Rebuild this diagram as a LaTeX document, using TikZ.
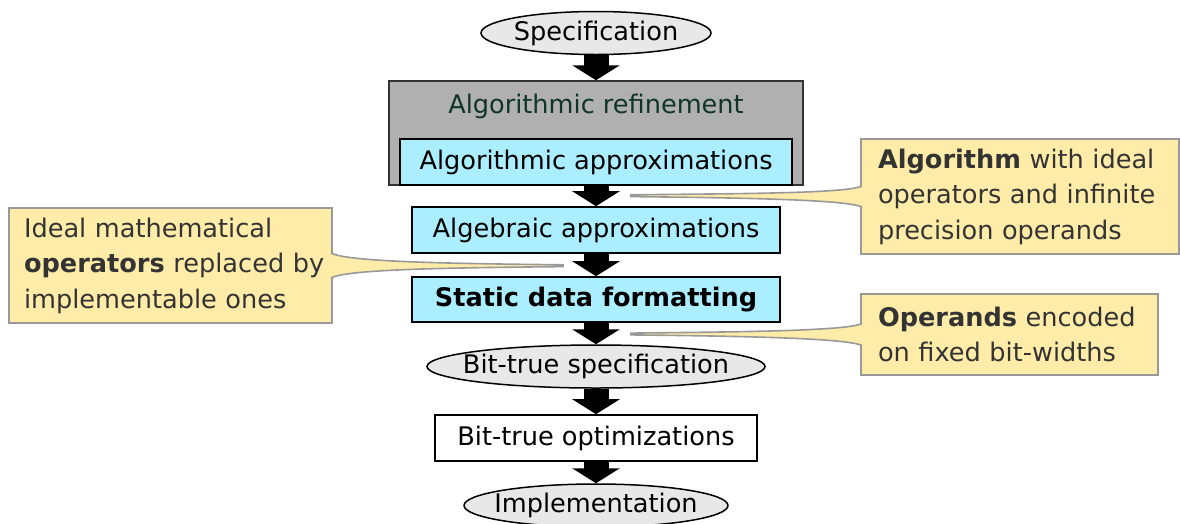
\documentclass[tikz,border=0pt]{standalone}
\usepackage{fontspec}
\setmainfont{DejaVu Sans}
\usetikzlibrary{shapes.geometric,arrows.meta}
\definecolor{specgray}{RGB}{232,232,232}
\definecolor{boxcyan}{RGB}{170,238,255}
\definecolor{refgray}{RGB}{176,176,176}
\definecolor{refgreen}{RGB}{16,52,40}
\definecolor{notefill}{RGB}{255,236,168}
\definecolor{noteline}{RGB}{153,153,153}
\definecolor{notetext}{RGB}{51,51,51}

\begin{document}
\begin{tikzpicture}[x=1pt,y=-1pt,
		font=\fontsize{25.6}{35.5}\selectfont,
		ends/.style={ellipse,draw,line width=1.5pt,fill=specgray,inner sep=0pt,minimum height=43pt},
		stage/.style={rectangle,draw,line width=1.6pt,fill=boxcyan,inner sep=0pt,minimum height=46pt},
		flow/.style={line width=25pt,-{Triangle[width=47pt,length=15pt]}},
		note/.style={rectangle,draw=noteline,line width=2pt,fill=notefill,text=notetext,align=left,inner sep=0pt},
		pointer/.style={draw=noteline,line width=1.6pt,fill=notefill}]
				\useasboundingbox (0,0) rectangle (1180,523);
				\draw (596,33) node[ends,minimum width=230pt] (spec) {\makebox[0pt]{Specification}};
				\draw (596,133) node[draw=black!80,line width=1.5pt,fill=refgray,minimum width=414pt,minimum height=104pt] (refine) {};
				\draw (596,106) node[text=refgreen] (refinelbl) {Algorithmic refinement};
				\draw (596,162) node[stage,minimum width=392pt] (algo) {Algorithmic approximations};
				\draw (596,230) node[stage,minimum width=368pt] (alge) {Algebraic approximations};
				\draw (596,299.5) node[stage,minimum width=368pt,minimum height=45pt] (stat) {\textbf{Static data formatting}};
				\draw (596,366.5) node[ends,minimum width=338pt] (bitspec) {\makebox[0pt]{Bit-true specification}};
				\draw (596,438) node[stage,fill=white,minimum width=322pt] (bitopt) {Bit-true optimizations};
				\draw (596,505.5) node[ends,minimum width=264pt] (impl) {\makebox[0pt]{Implementation}};
				\draw[flow] (spec) -- (refine);
				\draw[flow] (algo) -- (alge);
				\draw[flow] (alge) -- (stat);
				\draw[flow] (stat) -- (bitspec);
				\draw[flow] (bitspec) -- (bitopt);
				\draw[flow] (bitopt) -- (impl);
				% callouts
				\draw (1020,196.5) node[note,minimum width=318pt,minimum height=115pt,text width=284pt] (note1) {\textbf{Algorithm} with ideal\\\mbox{operators and infinite}\\precision operands};
				\draw (170.5,265.5) node[note,minimum width=323pt,minimum height=115pt,text width=293pt] (note2) {Ideal mathematical\\\mbox{\textbf{operators} replaced by}\\implementable ones};
				\draw (1009.5,334.5) node[note,minimum width=297pt,minimum height=81pt,text width=263pt] (note3) {\mbox{\textbf{Operands} encoded}\\on fixed bit-widths};
				\coordinate (tip1) at (631,195.7);
				\coordinate (tip2) at (563,265.7);
				\coordinate (tip3) at (631,334);
				\filldraw[pointer] ([shift={(2pt,10.5pt)}]note1.west) .. controls +(-16pt,-7.5pt) and +(110pt,1.2pt) .. ([yshift=0.9pt]tip1) -- ([yshift=-0.9pt]tip1) .. controls +(110pt,-1.2pt) and +(-16pt,7.5pt) .. ([shift={(2pt,-10.5pt)}]note1.west);
				\filldraw[pointer] ([shift={(-2pt,12.5pt)}]note2.east) .. controls +(16pt,-9pt) and +(-110pt,1.2pt) .. ([yshift=0.9pt]tip2) -- ([yshift=-0.9pt]tip2) .. controls +(-110pt,-1.2pt) and +(16pt,9pt) .. ([shift={(-2pt,-12.5pt)}]note2.east);
				\filldraw[pointer] ([shift={(2pt,11pt)}]note3.west) .. controls +(-16pt,-7.5pt) and +(110pt,1.2pt) .. ([yshift=0.9pt]tip3) -- ([yshift=-0.9pt]tip3) .. controls +(110pt,-1.2pt) and +(-16pt,7.5pt) .. ([shift={(2pt,-11pt)}]note3.west);
			\end{tikzpicture}
\end{document}
